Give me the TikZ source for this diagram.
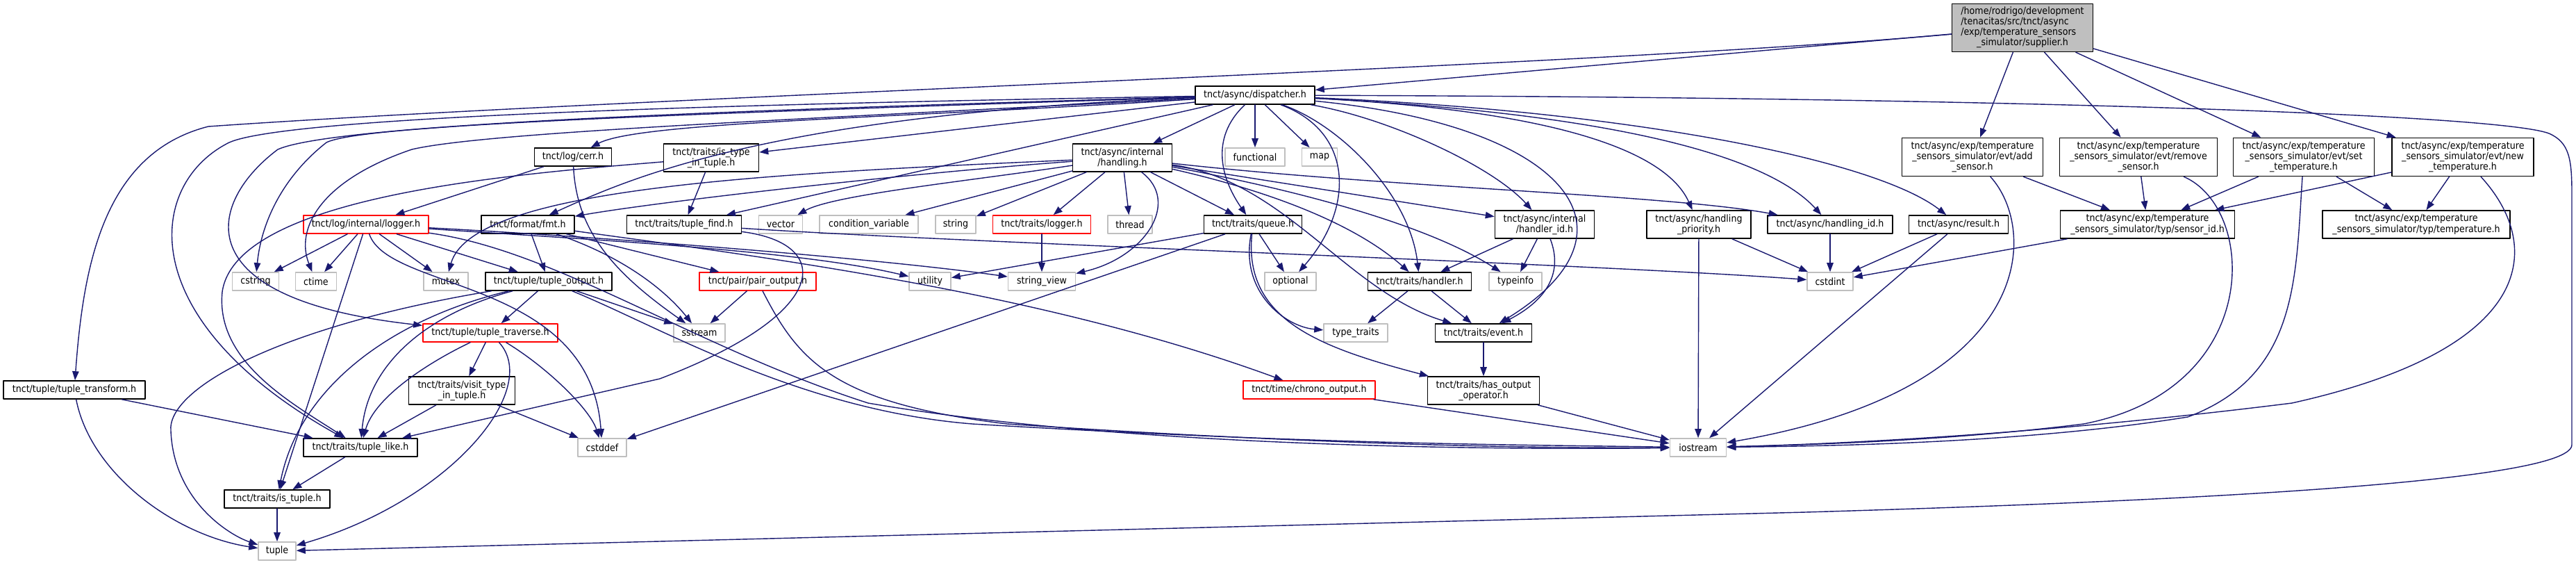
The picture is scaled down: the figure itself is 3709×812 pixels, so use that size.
\documentclass[tikz,border=0pt]{standalone}
\usepackage{fontspec}
\setmainfont{DejaVu Sans Condensed}
\usepackage{tikz}
\usetikzlibrary{arrows.meta,calc}
\definecolor{edgeblue}{HTML}{191970}
\definecolor{sysgray}{HTML}{BFBFBF}
\definecolor{mainfill}{HTML}{BFBFBF}
\tikzset{
    every picture/.style={line cap=round,line join=round},
    hdrnode/.style={draw=black,fill=white,line width=0.9pt,inner sep=0pt,
      minimum height=0.52cm,font=\fontsize{8}{8.6}\selectfont,align=center},
    sysnode/.style={hdrnode,draw=sysgray},
    truncnode/.style={hdrnode,draw=red},
    mainnode/.style={hdrnode,fill=mainfill},
    twoline/.style={minimum height=0.8cm},
    threeline/.style={minimum height=1.1cm},
    fourline/.style={minimum height=1.38cm},
    incarrow/.style={-{Triangle[length=0.26cm,width=0.19cm]},draw=edgeblue,
      line width=0.8pt}
}

\begin{document}
\begin{tikzpicture}[x=0.02cm,y=-0.02cm]
    \useasboundingbox (0,0) rectangle (3709,812);
    % file itself and first level
    \node[mainnode,fourline,minimum width=4.06cm] (sup) at (2912,40)
      {\begin{tabular}{@{}l@{}}/home/rodrigo/development\\/tenacitas/src/tnct/async\\/exp/temperature\_sensors\\\multicolumn{1}{@{}c@{}}{\_simulator/supplier.h}\end{tabular}};
    \node[hdrnode,minimum width=3.44cm] (disp) at (1807,137) {tnct/async/dispatcher.h};
    \node[hdrnode,minimum width=2.22cm] (cerr) at (825,226) {tnct/log/cerr.h};
    \node[hdrnode,twoline,minimum width=2.74cm] (istype) at (1024,227) {tnct/traits/is\_type\\\_in\_tuple.h};
    \node[hdrnode,twoline,minimum width=2.86cm] (hnd) at (1616,227) {tnct/async/internal\\/handling.h};
    \node[sysnode,minimum width=1.72cm] (functional) at (1807,226) {functional};
    \node[sysnode,minimum width=1.02cm] (map) at (1900,226) {map};
    \node[hdrnode,threeline,minimum width=4.06cm] (addev) at (2840,226) {tnct/async/exp/temperature\\\_sensors\_simulator/evt/add\\\_sensor.h};
    \node[hdrnode,threeline,minimum width=4.54cm] (remev) at (3079,226) {tnct/async/exp/temperature\\\_sensors\_simulator/evt/remove\\\_sensor.h};
    \node[hdrnode,threeline,minimum width=4.06cm] (setev) at (3317,226) {tnct/async/exp/temperature\\\_sensors\_simulator/evt/set\\\_temperature.h};
    \node[hdrnode,threeline,minimum width=4.08cm] (newev) at (3546,226) {tnct/async/exp/temperature\\\_sensors\_simulator/evt/new\\\_temperature.h};
    % middle row
    \node[truncnode,minimum width=3.6cm] (logger) at (527,323) {tnct/log/internal/logger.h};
    \node[hdrnode,minimum width=2.68cm] (fmt) at (760,323) {tnct/format/fmt.h};
    \node[hdrnode,minimum width=3.3cm] (tfind) at (985,323) {tnct/traits/tuple\_find.h};
    \node[sysnode,minimum width=1.26cm] (vector) at (1124,323) {vector};
    \node[sysnode,minimum width=2.84cm] (condvar) at (1251,323) {condition\_variable};
    \node[sysnode,minimum width=1.16cm] (string) at (1376,323) {string};
    \node[truncnode,minimum width=2.82cm] (tlogger) at (1500,323) {tnct/traits/logger.h};
    \node[sysnode,minimum width=1.28cm] (thread) at (1627,323) {thread};
    \node[hdrnode,minimum width=2.82cm] (queue) at (1804,323) {tnct/traits/queue.h};
    \node[hdrnode,twoline,minimum width=2.86cm] (handlerid) at (2224,323) {tnct/async/internal\\/handler\_id.h};
    \node[hdrnode,twoline,minimum width=3cm] (prio) at (2446,323) {tnct/async/handling\\\_priority.h};
    \node[hdrnode,minimum width=3.6cm] (handlingid) at (2635,323) {tnct/async/handling\_id.h};
    \node[hdrnode,minimum width=2.86cm] (result) at (2820,323) {tnct/async/result.h};
    \node[hdrnode,twoline,minimum width=5.02cm] (sensorid) at (3092,323) {tnct/async/exp/temperature\\\_sensors\_simulator/typ/sensor\_id.h};
    \node[hdrnode,twoline,minimum width=5.4cm] (temp) at (3479,323) {tnct/async/exp/temperature\\\_sensors\_simulator/typ/temperature.h};
    \node[sysnode,minimum width=1.34cm] (cstring) at (368,405) {cstring};
    \node[sysnode,minimum width=1.18cm] (ctime) at (455,405) {ctime};
    \node[sysnode,minimum width=1.28cm] (mutex) at (642,405) {mutex};
    \node[hdrnode,minimum width=3.64cm] (toutput) at (790,405) {tnct/tuple/tuple\_output.h};
    \node[truncnode,minimum width=3.36cm] (pairout) at (1091,405) {tnct/pair/pair\_output.h};
    \node[sysnode,minimum width=1.2cm] (utility) at (1339,405) {utility};
    \node[sysnode,minimum width=1.94cm] (strview) at (1500,405) {string\_view};
    \node[sysnode,minimum width=1.48cm] (optional) at (1858,405) {optional};
    \node[hdrnode,minimum width=2.98cm] (handler) at (2044,405) {tnct/traits/handler.h};
    \node[sysnode,minimum width=1.52cm] (typeinfo) at (2182,405) {typeinfo};
    \node[sysnode,minimum width=1.32cm] (cstdint) at (2635,405) {cstdint};
    % lower rows
    \node[truncnode,minimum width=3.88cm] (traverse) at (706,479) {tnct/tuple/tuple\_traverse.h};
    \node[sysnode,minimum width=1.48cm] (sstream) at (1007,479) {sstream};
    \node[sysnode,minimum width=1.84cm] (typetraits) at (1952,479) {type\_traits};
    \node[hdrnode,minimum width=2.78cm] (event) at (2136,479) {tnct/traits/event.h};
    \node[hdrnode,minimum width=4.08cm] (transform) at (107,561) {tnct/tuple/tuple\_transform.h};
    \node[hdrnode,twoline,minimum width=3.06cm] (visit) at (665,562) {tnct/traits/visit\_type\\\_in\_tuple.h};
    \node[truncnode,minimum width=3.8cm] (chrono) at (1885,561) {tnct/time/chrono\_output.h};
    \node[hdrnode,twoline,minimum width=3.22cm] (hasout) at (2136,562) {tnct/traits/has\_output\\\_operator.h};
    \node[hdrnode,minimum width=3.28cm] (tlike) at (519,644) {tnct/traits/tuple\_like.h};
    \node[sysnode,minimum width=1.4cm] (cstddef) at (867,644) {cstddef};
    \node[sysnode,minimum width=1.62cm] (iostream) at (2445,644) {iostream};
    \node[hdrnode,minimum width=3.04cm] (istuple) at (399,718) {tnct/traits/is\_tuple.h};
    \node[sysnode,minimum width=1.08cm] (tuple) at (399,793) {tuple};
    % supplier.h
    \draw[incarrow] (sup) -- (disp);
    \draw[incarrow] (sup) -- (addev);
    \draw[incarrow] (sup) -- (remev);
    \draw[incarrow] (sup) -- (setev);
    \draw[incarrow] (sup) -- (newev);
    \draw[incarrow] (sup) .. controls (2300,95) and (900,140) .. (300,182) .. controls (150,220) and (120,380) .. (transform);
    % dispatcher.h
    \draw[incarrow] (disp) .. controls (1150,148) and (420,165) .. (330,205) .. controls (210,265) and (190,460) .. (tlike);
    \draw[incarrow] (disp) .. controls (1000,160) and (480,180) .. (400,215) .. controls (300,290) and (260,430) .. (traverse);
    \draw[incarrow] (disp) .. controls (950,165) and (520,180) .. (470,205) .. controls (400,260) and (375,330) .. (cstring);
    \draw[incarrow] (disp) .. controls (1150,172) and (700,190) .. (593,215) .. controls (460,260) and (425,330) .. (ctime);
    \draw[incarrow] (disp) .. controls (1300,170) and (920,175) .. (cerr);
    \draw[incarrow] (disp) .. controls (1100,165) and (900,260) .. (fmt);
    \draw[incarrow] (disp) -- (istype);
    \draw[incarrow] (disp) -- (tfind);
    \draw[incarrow] (disp) -- (hnd);
    \draw[incarrow] (disp) -- (functional);
    \draw[incarrow] (disp) -- (map);
    \draw[incarrow] (disp) .. controls (1740,200) and (1760,260) .. (queue);
    \draw[incarrow] (disp) .. controls (1950,190) and (1950,300) .. (optional);
    \draw[incarrow] (disp) .. controls (1930,180) and (2030,280) .. (handler);
    \draw[incarrow] (disp) .. controls (2000,170) and (2150,240) .. (handlerid);
    \draw[incarrow] (disp) .. controls (2250,180) and (2380,330) .. (event);
    \draw[incarrow] (disp) .. controls (2250,160) and (2400,220) .. (prio);
    \draw[incarrow] (disp) .. controls (2350,165) and (2550,230) .. (handlingid);
    \draw[incarrow] (disp) .. controls (2350,160) and (2700,230) .. (result);
    \draw[incarrow] (disp) .. controls (2900,140) and (3600,165) .. (3670,192)
      .. controls (3700,205) and (3703,230) .. (3703,280) -- (3703,640)
      .. controls (3703,700) and (3000,725) .. (2600,737) -- (tuple);
    % cerr.h, is_type_in_tuple.h
    \draw[incarrow] (cerr) -- (logger);
    \draw[incarrow] (cerr) .. controls (830,330) and (880,390) .. (sstream);
    \draw[incarrow] (istype) -- (tfind);
    \draw[incarrow] (istype) .. controls (750,250) and (340,280) .. (320,420) .. controls (310,520) and (420,580) .. (tlike);
    % handling.h
    \draw[incarrow] (hnd) .. controls (1100,250) and (680,270) .. (mutex);
    \draw[incarrow] (hnd) .. controls (1300,250) and (950,290) .. (fmt);
    \draw[incarrow] (hnd) .. controls (1400,260) and (1200,280) .. (vector);
    \draw[incarrow] (hnd) -- (condvar);
    \draw[incarrow] (hnd) -- (string);
    \draw[incarrow] (hnd) -- (tlogger);
    \draw[incarrow] (hnd) -- (thread);
    \draw[incarrow] (hnd) -- (queue);
    \draw[incarrow] (hnd) .. controls (1700,290) and (1650,370) .. (strview);
    \draw[incarrow] (hnd) -- (handlerid);
    \draw[incarrow] (hnd) .. controls (2000,270) and (2400,280) .. (handlingid);
    \draw[incarrow] (hnd) .. controls (1850,280) and (1960,330) .. (handler);
    \draw[incarrow] (hnd) .. controls (1850,270) and (2050,320) .. (typeinfo);
    \draw[incarrow] (hnd) .. controls (1850,260) and (1940,420) .. (event);
    % logger.h
    \draw[incarrow] (logger) -- (cstring);
    \draw[incarrow] (logger) -- (ctime);
    \draw[incarrow] (logger) -- (mutex);
    \draw[incarrow] (logger) -- (toutput);
    \draw[incarrow] (logger) -- (istuple);
    \draw[incarrow] (logger) .. controls (560,420) and (850,400) .. (cstddef);
    \draw[incarrow] (logger) .. controls (850,345) and (1150,360) .. (utility);
    \draw[incarrow] (logger) .. controls (850,340) and (1250,370) .. (strview);
    \draw[incarrow] (logger) .. controls (800,360) and (1000,500) .. (1250,580) .. controls (1600,640) and (2100,648) .. (iostream);
    % fmt.h
    \draw[incarrow] (fmt) -- (toutput);
    \draw[incarrow] (fmt) -- (pairout);
    \draw[incarrow] (fmt) .. controls (900,370) and (960,420) .. (sstream);
    \draw[incarrow] (fmt) .. controls (1100,370) and (1500,420) .. (chrono);
    % tuple_output.h, pair_output.h
    \draw[incarrow] (toutput) -- (traverse);
    \draw[incarrow] (toutput) -- (sstream);
    \draw[incarrow] (toutput) .. controls (620,450) and (530,520) .. (tlike);
    \draw[incarrow] (toutput) .. controls (560,460) and (430,560) .. (istuple);
    \draw[incarrow] (toutput) .. controls (400,470) and (240,560) .. (246,620) .. controls (250,720) and (330,770) .. (tuple);
    \draw[incarrow] (toutput) .. controls (950,470) and (1150,590) .. (1400,610) .. controls (1900,640) and (2200,640) .. (iostream);
    \draw[incarrow] (pairout) -- (sstream);
    \draw[incarrow] (pairout) .. controls (1150,520) and (1200,580) .. (1450,610) .. controls (1900,640) and (2200,645) .. (iostream);
    % tuple helpers
    \draw[incarrow] (traverse) -- (visit);
    \draw[incarrow] (traverse) .. controls (620,520) and (540,570) .. (tlike);
    \draw[incarrow] (traverse) .. controls (780,560) and (650,720) .. (tuple);
    \draw[incarrow] (traverse) .. controls (790,530) and (850,590) .. (cstddef);
    \draw[incarrow] (visit) -- (tlike);
    \draw[incarrow] (visit) -- (cstddef);
    \draw[incarrow] (tlike) -- (istuple);
    \draw[incarrow] (istuple) -- (tuple);
    \draw[incarrow] (transform) -- (tlike);
    \draw[incarrow] (transform) .. controls (130,680) and (250,770) .. (tuple);
    \draw[incarrow] (tfind) .. controls (1200,350) and (1200,450) .. (950,545) -- (tlike);
    \draw[incarrow] (tfind) .. controls (1400,350) and (2300,380) .. (cstdint);
    \draw[incarrow] (tlogger) -- (strview);
    % queue.h, handler_id.h, handler.h, event.h
    \draw[incarrow] (queue) -- (utility);
    \draw[incarrow] (queue) -- (cstddef);
    \draw[incarrow] (queue) -- (optional);
    \draw[incarrow] (queue) .. controls (1785,420) and (1850,470) .. (typetraits);
    \draw[incarrow] (queue) .. controls (1790,460) and (1900,500) .. (hasout);
    \draw[incarrow] (handlerid) -- (handler);
    \draw[incarrow] (handlerid) -- (typeinfo);
    \draw[incarrow] (handlerid) .. controls (2250,390) and (2230,430) .. (event);
    \draw[incarrow] (handler) -- (typetraits);
    \draw[incarrow] (handler) -- (event);
    \draw[incarrow] (event) -- (hasout);
    \draw[incarrow] (hasout) -- (iostream);
    \draw[incarrow] (chrono) -- (iostream);
    % async ids, result
    \draw[incarrow] (prio) -- (iostream);
    \draw[incarrow] (prio) -- (cstdint);
    \draw[incarrow] (handlingid) -- (cstdint);
    \draw[incarrow] (result) -- (cstdint);
    \draw[incarrow] (result) -- (iostream);
    % temperature sensors events
    \draw[incarrow] (addev) -- (sensorid);
    \draw[incarrow] (remev) -- (sensorid);
    \draw[incarrow] (setev) -- (sensorid);
    \draw[incarrow] (newev) -- (sensorid);
    \draw[incarrow] (setev) -- (temp);
    \draw[incarrow] (newev) -- (temp);
    \draw[incarrow] (sensorid) -- (cstdint);
    \draw[incarrow] (addev) .. controls (2935,330) and (2935,560) .. (iostream);
    \draw[incarrow] (remev) .. controls (3250,300) and (3260,560) .. (3000,610) .. controls (2800,635) and (2600,640) .. (iostream);
    \draw[incarrow] (setev) .. controls (3305,400) and (3310,540) .. (3150,600) .. controls (2900,640) and (2600,642) .. (iostream);
    \draw[incarrow] (newev) .. controls (3660,350) and (3660,500) .. (3300,580) .. controls (2900,630) and (2600,640) .. (iostream);
\end{tikzpicture}
\end{document}
